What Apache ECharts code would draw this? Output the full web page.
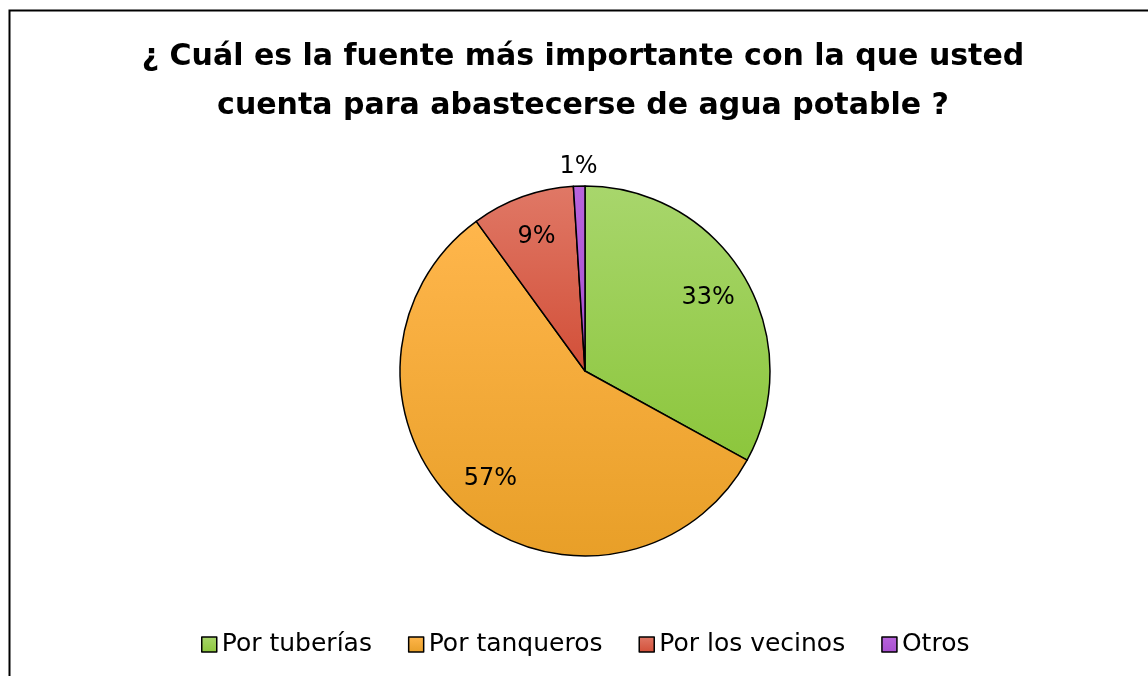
<!DOCTYPE html>
<html>
<head>
<meta charset="utf-8">
<script src="https://cdn.jsdelivr.net/npm/echarts@6/dist/echarts.min.js"></script>
<style>
    html, body { margin: 0; padding: 0; background: #fff; }
    #chart { width: 1148px; height: 676px; }
</style>
</head>
<body>
<div id="chart"></div>
<script>
const TITLE_LINES = ['¿ Cuál es la fuente más importante con la que usted', 'cuenta para abastecerse de agua potable ?'];
const categories = ['Por tuberías', 'Por tanqueros', 'Por los vecinos', 'Otros'];
const shares = [33, 57, 9, 1];
const topColors = ['#a8d66c', '#ffb64c', '#e07866', '#b864dc'];
const bottomColors = ['#8cc63c', '#e89f28', '#d24f38', '#a850d0'];

const FONT = '"Century Gothic", "DejaVu Sans", sans-serif';

function gradient(i) {
    return new echarts.graphic.LinearGradient(0, 0, 0, 1, [
        { offset: 0, color: topColors[i] },
        { offset: 1, color: bottomColors[i] }
    ]);
}

function buildPieData() {
    return categories.map((name, i) => ({
        name,
        value: shares[i],
        itemStyle: { color: gradient(i) }
    }));
}

// transparent rings only used to put the percent labels at the right radius
function buildLabelData(showFor) {
    return categories.map((name, i) => ({
        name,
        value: shares[i],
        label: { show: showFor(i) }
    }));
}

const labelStyle = {
    position: 'inside',
    formatter: (p) => `${p.value}%`,
    color: '#000',
    fontFamily: FONT,
    fontSize: 24
};

const chart = echarts.init(document.getElementById('chart'));
chart.setOption({
    backgroundColor: '#fff',
    animation: false,
    title: {
        text: TITLE_LINES.join('\n'),
        left: 578,
        top: 28,
        textAlign: 'center',
        textStyle: {
            fontFamily: FONT,
            fontWeight: 'bold',
            fontSize: 30,
            lineHeight: 49,
            color: '#000'
        }
    },
    legend: {
        top: 627,
        left: 196,
        icon: 'rect',
        itemWidth: 15,
        itemHeight: 15,
        itemGap: 36,
        selectedMode: false,
        data: categories.map((name, i) => ({
            name,
            itemStyle: { color: gradient(i), borderColor: '#000', borderWidth: 1.5 }
        })),
        textStyle: { fontFamily: FONT, fontSize: 25, color: '#000' }
    },
    graphic: [{
        type: 'rect',
        shape: { x: 9.5, y: 10.5, width: 1200, height: 700 },
        style: { fill: null, stroke: '#000', lineWidth: 2 },
        silent: true
    }],
    series: [
        {
            type: 'pie',
            center: [585, 371],
            radius: 185,
            startAngle: 90,
            clockwise: true,
            label: { show: false },
            labelLine: { show: false },
            itemStyle: { borderColor: '#000', borderWidth: 1.5 },
            emphasis: { disabled: true },
            data: buildPieData()
        },
        {
            type: 'pie',
            center: [585, 371],
            radius: [96, 184],
            startAngle: 90,
            silent: true,
            itemStyle: { color: 'rgba(0,0,0,0)' },
            label: labelStyle,
            labelLine: { show: false },
            emphasis: { disabled: true },
            data: buildLabelData((i) => shares[i] >= 5)
        },
        {
            type: 'pie',
            center: [585, 371],
            radius: [190, 212],
            startAngle: 90,
            silent: true,
            itemStyle: { color: 'rgba(0,0,0,0)' },
            label: labelStyle,
            labelLine: { show: false },
            emphasis: { disabled: true },
            data: buildLabelData((i) => shares[i] < 5)
        }
    ]
});
</script>
</body>
</html>
